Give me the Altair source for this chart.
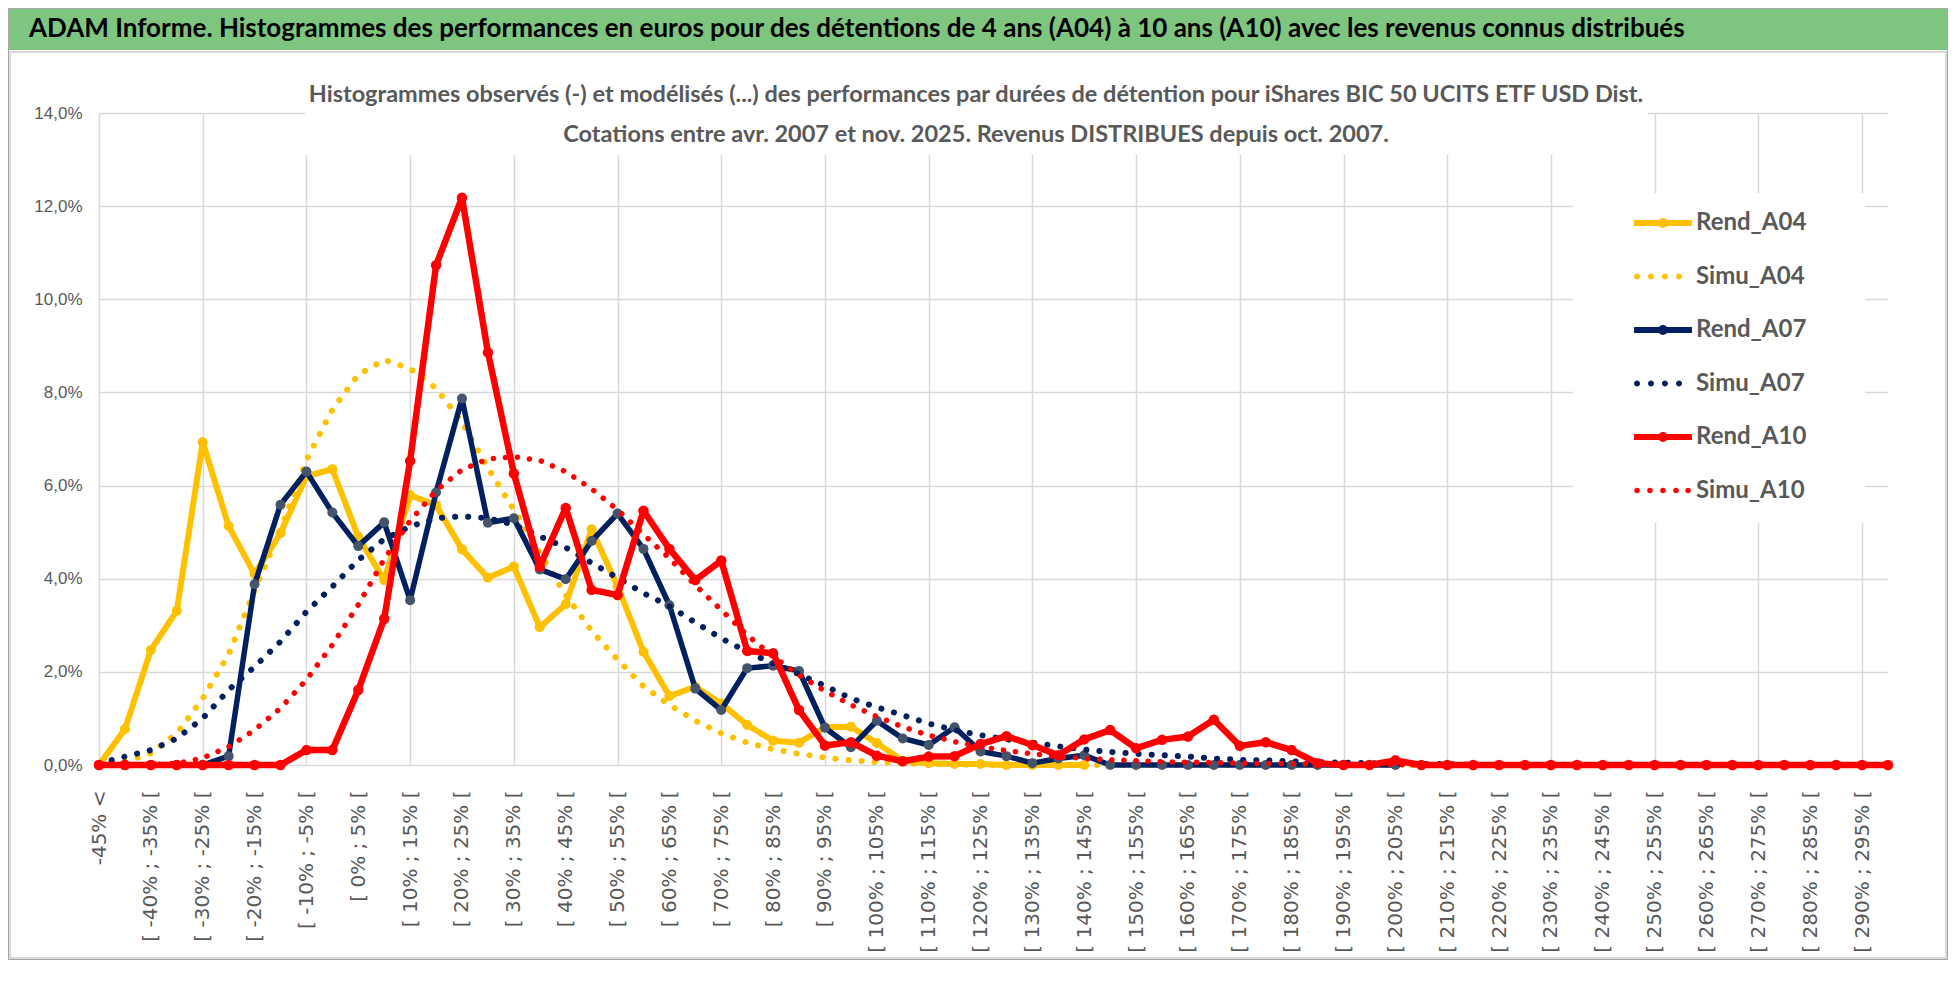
import json
import altair as alt
import pandas as pd

# ---------------- data ----------------
categories = (["-45% <"]
              + ["[ %d%% ; %d%% [" % (lo, lo + 5) for lo in range(-45, 295, 5)]
              + ["> 295%"])

series_names = ["Rend_A04", "Simu_A04", "Rend_A07", "Simu_A07", "Rend_A10", "Simu_A10"]
series_colors = ["#FFC000", "#FFC000", "#002060", "#002060", "#FF0000", "#FF0000"]

rend_a04 = [0.0, 0.77, 2.47, 3.31, 6.93, 5.13, 4.10, 4.98, 6.20, 6.35,
            4.90, 3.97, 5.79, 5.58, 4.63, 4.02, 4.26, 2.96, 3.45, 5.06,
            3.84, 2.43, 1.48, 1.68, 1.32, 0.86, 0.52, 0.48, 0.81, 0.82,
            0.47, 0.09, 0.04, 0.02, 0.02, 0.0, 0.0, 0.0, 0.0] + [None] * 31

simu_a04 = [0.02, 0.07, 0.25, 0.68, 1.43, 2.38, 3.75, 5.05, 6.55, 7.63,
            8.38, 8.70, 8.51, 8.09, 7.36, 6.38, 5.48, 4.55, 3.65, 2.88,
            2.26, 1.69, 1.29, 0.95, 0.68, 0.48, 0.34, 0.24, 0.16, 0.10,
            0.06, 0.04, 0.02, 0.01] + [0.0] * 36

rend_a07 = [0.0, 0.0, 0.0, 0.0, 0.0, 0.19, 3.88, 5.59, 6.30, 5.42,
            4.70, 5.21, 3.54, 5.85, 7.87, 5.20, 5.30, 4.20, 3.99, 4.81,
            5.40, 4.64, 3.43, 1.64, 1.18, 2.08, 2.13, 2.02, 0.80, 0.38,
            0.95, 0.57, 0.43, 0.81, 0.29, 0.19, 0.04, 0.14, 0.21] + [0.0] * 12 + [None] * 19

simu_a07 = [0.03, 0.18, 0.32, 0.57, 1.00, 1.61, 2.11, 2.65, 3.29, 3.83,
            4.40, 4.85, 5.12, 5.30, 5.34, 5.30, 5.16, 4.91, 4.67, 4.34,
            4.02, 3.69, 3.41, 3.06, 2.72, 2.43, 2.18, 1.95, 1.70, 1.43,
            1.24, 1.07, 0.89, 0.75, 0.64, 0.55, 0.48, 0.40, 0.33, 0.28,
            0.24, 0.21, 0.18, 0.14, 0.11, 0.10, 0.08, 0.06, 0.05, 0.04,
            0.03, 0.02, 0.02, 0.01] + [0.0] * 16

rend_a10 = [0.0, 0.0, 0.0, 0.0, 0.0, 0.0, 0.0, 0.0, 0.32, 0.32,
            1.61, 3.14, 6.53, 10.73, 12.18, 8.86, 6.26, 4.26, 5.52, 3.76,
            3.65, 5.46, 4.64, 3.97, 4.39, 2.45, 2.40, 1.18, 0.42, 0.49,
            0.20, 0.08, 0.18, 0.19, 0.45, 0.62, 0.43, 0.21, 0.55, 0.75,
            0.36, 0.54, 0.61, 0.97, 0.41, 0.49, 0.32, 0.04, 0.0, 0.0,
            0.10] + [0.0] * 19

simu_a10 = [0.0, 0.0, 0.01, 0.03, 0.15, 0.39, 0.75, 1.22, 1.83, 2.58,
            3.44, 4.42, 5.24, 5.89, 6.34, 6.57, 6.62, 6.54, 6.30, 5.93,
            5.48, 4.95, 4.44, 3.86, 3.33, 2.79, 2.33, 1.93, 1.59, 1.29,
            1.04, 0.82, 0.64, 0.50, 0.39, 0.31, 0.24, 0.18, 0.14, 0.11,
            0.09, 0.07, 0.06, 0.05, 0.04, 0.03, 0.03, 0.02, 0.02, 0.01,
            0.01] + [0.0] * 19

y_ticks = [0, 2, 4, 6, 8, 10, 12, 14]

title_text = ("ADAM Informe. Histogrammes des performances en euros pour des détentions "
              "de 4 ans (A04) à 10 ans (A10) avec les revenus connus distribués")
subtitle_1 = ("Histogrammes observés (-) et modélisés (...) des performances par durées "
              "de détention pour iShares BIC 50 UCITS ETF USD Dist.")
subtitle_2 = "Cotations entre avr. 2007 et nov. 2025. Revenus DISTRIBUES depuis oct. 2007."

all_series = [rend_a04, simu_a04, rend_a07, simu_a07, rend_a10, simu_a10]
rows = []
for name, vals in zip(series_names, all_series):
    for c, v in zip(categories, vals):
        if v is not None:
            rows.append({"cat": c, "series": name, "value": v})
df = pd.DataFrame(rows)

# ---------------- styling ----------------
TXT = "Lato"
GRAY = "#595959"
W, H = 1789, 652

grid_test = "indexof(" + json.dumps(categories[::4]) + ", datum.value) >= 0"

X = alt.X("cat:O",
          scale=alt.Scale(type="point", domain=categories, padding=0),
          axis=alt.Axis(title=None, values=categories[::2], labelAngle=-90,
                        labelAlign="right", labelBaseline="middle", labelPadding=25,
                        labelFont="DejaVu Sans", labelFontSize=20, labelColor=GRAY,
                        labelOverlap=False, labelLimit=400, ticks=False, domain=False,
                        grid=True, gridColor="#D9D9D9", gridWidth=1.5,
                        gridOpacity={"condition": {"test": grid_test, "value": 1}, "value": 0}))
Y = alt.Y("value:Q",
          scale=alt.Scale(domain=[0, 14], nice=False),
          axis=alt.Axis(title=None, values=y_ticks,
                        labelExpr="replace(format(datum.value, '.1f'), '.', ',') + '%'",
                        labelFont="Liberation Sans", labelFontSize=17, labelColor=GRAY,
                        labelPadding=17, ticks=False, domain=False,
                        gridColor="#D9D9D9", gridWidth=1.5))

one = pd.DataFrame({"t": [0]})


def box(x1, x2, y1, y2, **kw):
    return alt.Chart(one).mark_rect(**kw).encode(
        x=alt.value(x1), x2=alt.value(x2), y=alt.value(y1), y2=alt.value(y2))


def label(text, x, y, **kw):
    return alt.Chart(pd.DataFrame({"t": [text]})).mark_text(**kw).encode(
        x=alt.value(x), y=alt.value(y), text="t:N")


layers = []
# white boxes behind the chart title and the legend (hide gridlines)
layers.append(box(206, 1549, -62, 42, fill="white"))
layers.append(box(1474, 1766, 80, 410, fill="white"))

styles = {
    "Rend_A04": dict(color="#FFC000", w=6, dash=None, marker="#FFC000", msize=100),
    "Simu_A04": dict(color="#FFC000", w=6, dash=[0.1, 13], marker=None),
    "Rend_A07": dict(color="#002060", w=5.5, dash=None, marker="#44546A", msize=100),
    "Simu_A07": dict(color="#002060", w=6, dash=[0.1, 13], marker=None),
    "Rend_A10": dict(color="#FF0000", w=6.5, dash=None, marker="#FF0000", msize=110),
    "Simu_A10": dict(color="#FF0000", w=5.5, dash=[0.1, 12], marker=None),
}

for name in series_names:
    st = styles[name]
    base = alt.Chart(df).transform_filter(alt.datum.series == name)
    kw = dict(color=st["color"], strokeWidth=st["w"], strokeJoin="round")
    if st["dash"]:
        kw.update(strokeDash=st["dash"], strokeCap="round")
    layers.append(base.mark_line(**kw).encode(x=X, y=Y))
    if st["marker"]:
        layers.append(base.mark_point(filled=True, color=st["marker"], size=st["msize"],
                                      opacity=1).encode(x=X, y=Y))


# legend generator (invisible points, legend symbols drawn from custom paths)
def circ(cx, cy, r):
    return "M%.3f,%.3fA%.3f,%.3f 0 1,1 %.3f,%.3fA%.3f,%.3f 0 1,1 %.3f,%.3fZ" % (
        cx + r, cy, r, r, cx - r, cy, r, r, cx + r, cy)


rend_path = "M-1.93,-0.2L1.93,-0.2L1.93,0.2L-1.93,0.2Z" + circ(0, 0, 0.33)
dots4 = "".join(circ(c, 0, 0.2) for c in [-1.73, -0.8, 0.13, 1.07])
dots5 = "".join(circ(c, 0, 0.19) for c in [-1.73, -0.87, 0.0, 0.87, 1.67])
shape_paths = [rend_path, dots4, rend_path, dots4, rend_path, dots5]

leg = alt.Legend(title=None, orient="none", legendX=1549, legendY=95, direction="vertical",
                 padding=0, rowPadding=26.5, symbolSize=900, symbolStrokeWidth=0,
                 symbolOpacity=1, labelFont=TXT, labelFontSize=24, labelFontWeight="bold",
                 labelColor=GRAY, labelOffset=18, labelLimit=400)

leg_df = pd.DataFrame({"cat": [categories[0]] * 6, "series": series_names, "value": [0] * 6})
layers.append(alt.Chart(leg_df).mark_point(filled=True, opacity=0, size=10).encode(
    x=X, y=Y,
    color=alt.Color("series:N", scale=alt.Scale(domain=series_names, range=series_colors),
                    legend=leg),
    shape=alt.Shape("series:N", scale=alt.Scale(domain=series_names, range=shape_paths),
                    legend=leg)))

# frame, banner, titles
layers.append(box(-90.5, 1848.5, -104.5, 846.5, fill="white", fillOpacity=0,
                  stroke="#A6A6A6", strokeWidth=1))
layers.append(box(-89, 1847, -61, 845, fill="white", fillOpacity=0,
                  stroke="#D9D9D9", strokeWidth=2))
layers.append(box(-90, 1848, -104, -63, fill="#7EC67F"))
layers.append(label(title_text, -70, -84, align="left", baseline="middle",
                    font=TXT, fontSize=26, fontWeight="bold", color="black"))
layers.append(label(subtitle_1, 877, -18, align="center", baseline="middle",
                    font=TXT, fontSize=23.5, fontWeight="bold", color=GRAY))
layers.append(label(subtitle_2, 877, 22, align="center", baseline="middle",
                    font=TXT, fontSize=23.5, fontWeight="bold", color=GRAY))

chart = alt.layer(*layers).properties(
    width=W, height=H,
    autosize=alt.AutoSizeParams(type="none"),
    padding={"left": 91, "top": 105, "right": 60, "bottom": 195},
    background="white",
).configure_view(stroke=None)

chart.save("out.html", embed_options={"renderer": "svg", "actions": False})
